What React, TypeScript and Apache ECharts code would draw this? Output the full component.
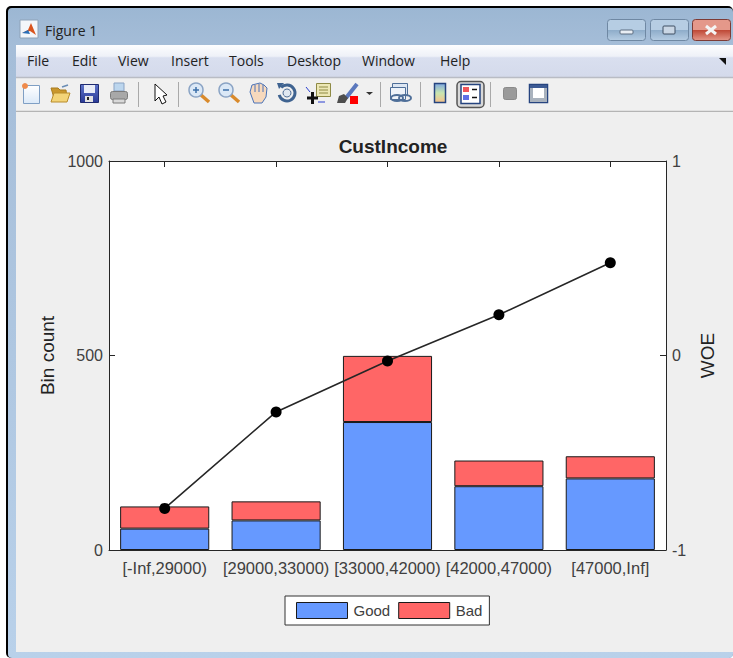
import React, { useEffect, useRef } from "react";
import * as echarts from "echarts";

const categories = ["[-Inf,29000)", "[29000,33000)", "[33000,42000)", "[42000,47000)", "[47000,Inf]"];
const goodCounts = [55, 76, 329, 164, 184];
const badCounts = [57, 49, 170, 66, 57];
const woeValues = [-0.786, -0.29, -0.028, 0.209, 0.477];
const menuItems: [string, number][] = [["File", 27], ["Edit", 72], ["View", 118], ["Insert", 171], ["Tools", 229], ["Desktop", 287], ["Window", 362], ["Help", 440]];
const separators = [138, 178, 380, 420, 490];

const FONT = "Liberation Sans, Arial, sans-serif";
const UI = "Open Sans, Noto Sans, sans-serif";
const TXT = "#404040";
const vg = (stops: [number, string][]) =>
  new echarts.graphic.LinearGradient(0, 0, 0, 1, stops.map(([offset, color]) => ({ offset, color })));
const rect = (x: number, y: number, w: number, h: number, fill: any, stroke?: string, r = 0, lineWidth = 1) => ({
  type: "rect", silent: true, shape: { x, y, width: w, height: h, r }, style: { fill, stroke, lineWidth },
});
const poly = (pts: number[][], fill: string, stroke?: string) => ({
  type: "polygon", silent: true, shape: { points: pts }, style: { fill, stroke, lineWidth: 1 },
});
const seg = (x1: number, y1: number, x2: number, y2: number, stroke: string, lineWidth = 1) => ({
  type: "line", silent: true, shape: { x1, y1, x2, y2 }, style: { stroke, lineWidth },
});
const circ = (cx: number, cy: number, r: number, fill: string, stroke?: string, lineWidth = 1) => ({
  type: "circle", silent: true, shape: { cx, cy, r }, style: { fill, stroke, lineWidth },
});
const label = (text: string, x: number, y: number) => ({
  type: "text", silent: true, x, y,
  style: { text, fill: "#222222", font: `14px ${UI}`, verticalAlign: "middle" },
});

function windowButton(x: number, w: number, top: string, bottom: string, border: string) {
  return rect(x + 0.5, 19.5, w, 21, vg([[0, top], [0.48, top], [0.52, bottom], [1, top]]), border, 3);
}

function chrome() {
  const zoomIcon = (cx: number, plus: boolean) => [
    seg(cx + 5, 95, cx + 13, 102, "#d98a2b", 3.5),
    circ(cx, 90, 7, "#dbe8f6", "#8aa3c4", 1.5),
    seg(cx - 3, 90, cx + 3, 90, "#3b6fa8", 1.5),
    ...(plus ? [seg(cx, 87, cx, 93, "#3b6fa8", 1.5)] : []),
  ];
  const els: any[] = [
    rect(6, 6, 727, 652, "#000000", undefined, 5),
    rect(8, 8, 725, 650, vg([[0, "#9cb7d3"], [0.06, "#a5bdd8"], [1, "#b9d1ea"]]), undefined, 4),
    rect(16, 45, 717, 32, vg([[0, "#fdfdfe"], [0.35, "#eef1f8"], [0.4, "#d9dfef"], [1, "#d4daeb"]])),
    rect(16, 77, 717, 575, "#f0f0f0"),
    seg(16, 77.5, 733, 77.5, "#b9bcc4", 1.5),
    seg(16, 111.5, 733, 111.5, "#b4b4b4", 1.5),
    rect(16, 112, 717, 540, "#efefef"),
    // title bar
    rect(20, 20, 18, 18, "#f4f6fa", "#8ea2b8"),
    poly([[22, 33], [28, 30], [31, 23], [36, 35], [30, 31]], "#d9541e"),
    poly([[22, 33], [28, 30], [30, 34]], "#2a6fb8"),
    { ...label("Figure 1", 45, 30.5) },
    windowButton(607, 38, "#b6cde3", "#8fadca", "#6f88a3"),
    rect(620, 30, 13, 4, "#e9eef4", "#5d6d80", 1),
    windowButton(650, 38, "#b6cde3", "#8fadca", "#6f88a3"),
    rect(663, 26, 12, 8, "#c9d6e4", "#3f4f62", 1),
    windowButton(692, 38, "#e4988a", "#bf4a38", "#7d3b35"),
    seg(706, 26, 716, 34, "#f4f4f4", 3),
    seg(716, 26, 706, 34, "#f4f4f4", 3),
    ...menuItems.map(([t, x]) => label(t, x, 60.5)),
    poly([[719, 58], [726, 58], [726, 65]], "#111111"),
    // toolbar separators
    ...separators.map((x) => seg(x + 0.5, 82, x + 0.5, 107, "#a9a9a9")),
    // new file
    rect(23.5, 85.5, 16, 18, vg([[0, "#ffffff"], [1, "#dbe9f8"]]), "#7f9fc4"),
    circ(25, 86, 3, "#ef8a4a"),
    // open folder
    poly([[54, 98], [51, 88], [58, 88], [60, 90], [66, 90], [67, 98]], "#c9972d", "#a97d20"),
    poly([[51, 102], [54, 93], [70, 93], [67, 102]], "#f3d478", "#b88c2c"),
    seg(62, 87, 68, 85, "#6b8db5", 1.5),
    // save
    rect(80.5, 84.5, 18, 18, vg([[0, "#5d73c9"], [1, "#2a3a96"]]), "#1f2b70"),
    rect(84, 85, 11, 8, "#e8ecf7"),
    rect(85, 96, 8, 6, "#e3e3e3"),
    rect(87, 97, 2, 3, "#222222"),
    // print
    rect(114, 83, 10, 8, "#bcd6ee", "#8aa3c4"),
    rect(110.5, 91.5, 17, 8, "#a8a8a8", "#7b7b7b", 2),
    rect(113, 99, 12, 4, "#d9d9d9", "#7b7b7b"),
    // arrow
    poly([[155, 84], [155, 101], [159, 97], [162, 104], [166, 102], [163, 96], [167, 95]], "#ffffff", "#111111"),
    ...zoomIcon(196, true),
    ...zoomIcon(226, false),
    // hand
    poly([[250, 92], [252, 85], [256, 84], [260, 83], [264, 85], [267, 88], [266, 97], [262, 103], [254, 103]], "#f7d9bd", "#4a73b8"),
    seg(255, 85, 255, 92, "#4a73b8"), seg(259, 84, 259, 92, "#4a73b8"), seg(263, 85, 263, 92, "#4a73b8"),
    // rotate
    { type: "arc", silent: true, shape: { cx: 287, cy: 93, r: 8, startAngle: -2.4, endAngle: 2.9 }, style: { fill: "none", stroke: "#3f6390", lineWidth: 3 } },
    circ(287, 93, 4, "#dfe7f0", "#4d6c94"),
    poly([[277, 83], [284, 83], [279, 89]], "#3f6390"),
    // data cursor
    rect(316.5, 83.5, 14, 13, "#ece7b5", "#8e8a45"),
    seg(319, 87, 328, 87, "#8e8a45"), seg(319, 90, 328, 90, "#8e8a45"), seg(319, 93, 328, 93, "#8e8a45"),
    seg(307, 98, 318, 98, "#111111", 3), seg(312.5, 92, 312.5, 104, "#111111", 3),
    seg(306, 87, 310, 92, "#2a3fd0"), seg(318, 102, 325, 102, "#2a3fd0"),
    // brush
    seg(346, 98, 357, 84, "#5b78bd", 4),
    poly([[337, 103], [339, 96], [344, 94], [348, 98], [345, 103]], "#4e4e4e"),
    rect(350, 96, 8, 8, "#ff0000"),
    poly([[366, 92], [373, 92], [369.5, 95]], "#333333"),
    // link
    rect(392.5, 83.5, 15, 12, "#dce6f2", "#4f6f99"),
    rect(390.5, 87.5, 15, 12, "#eef3f9", "#4f6f99"),
    { type: "ellipse", silent: true, shape: { cx: 397, cy: 98, rx: 6, ry: 3 }, style: { fill: "none", stroke: "#4f6f99", lineWidth: 2 } },
    { type: "ellipse", silent: true, shape: { cx: 405, cy: 98, rx: 6, ry: 3 }, style: { fill: "none", stroke: "#4f6f99", lineWidth: 2 } },
    // colorbar
    rect(434.5, 83.5, 11, 19, vg([[0, "#7fa8e0"], [0.5, "#c8e6b0"], [1, "#f6c08a"]]), "#26447f", 0, 1.5),
    // legend toggle
    rect(457, 81.5, 27, 26, "#d9d9d9", "#555555", 4, 1.5),
    rect(461, 84.5, 19, 19, "#ffffff", "#26447f", 0, 1.5),
    rect(463, 87, 6, 5, "#f0555a"), rect(463, 95, 6, 5, "#5f6fe6"),
    seg(472, 89.5, 477, 89.5, "#111111", 1.5), seg(472, 97.5, 477, 97.5, "#111111", 1.5),
    // plot-tools icons
    rect(503.5, 87.5, 13, 12, "#9a9a9a", "#8a8a8a", 2),
    rect(529.5, 84.5, 18, 18, "#ffffff", "#26447f", 0, 1.5),
    rect(530, 85, 17, 3, "#3c5a94"), rect(530, 98, 17, 4, "#a9b2bd"),
    rect(530, 88, 3, 10, "#a9b2bd"), rect(544, 88, 3, 10, "#a9b2bd"),
  ];
  return els.map((e) => ({ ...e, z: -1 }));
}

export default function App() {
  const ref = useRef<HTMLDivElement>(null);
  useEffect(() => {
    const chart = echarts.init(ref.current!, undefined, { renderer: "svg" });
    const axisLine = { show: true, onZero: false, lineStyle: { color: "#262626", width: 1 } };
    const axisTick = { show: true, inside: true, length: 6, lineStyle: { color: "#262626", width: 1 } };
    const edge = { borderColor: "#1a1a1a", borderWidth: 1 };
    chart.setOption({
      animation: false,
      backgroundColor: "#ffffff",
      graphic: { elements: chrome() },
      title: {
        text: "CustIncome", left: 388, top: 132, textAlign: "center",
        textStyle: { fontFamily: FONT, fontSize: 19, fontWeight: "bold", color: "#222222" },
      },
      legend: {
        data: ["Good", "Bad"], left: 285, top: 596, orient: "horizontal",
        itemWidth: 51, itemHeight: 16, itemGap: 8,
        padding: [6, 7, 6, 11], borderWidth: 1, borderColor: "#333333", backgroundColor: "#ffffff",
        selectedMode: false, icon: "rect",
        itemStyle: { borderWidth: 1, borderColor: "#1a1a1a" },
        textStyle: { fontFamily: FONT, fontSize: 15, color: TXT, padding: [1, 0, 0, 1] },
      },
      grid: { left: 109, top: 161, width: 557, height: 389, show: true, backgroundColor: "#ffffff", borderWidth: 0 },
      xAxis: [
        {
          type: "category", data: categories, position: "bottom", axisLine, axisTick: { ...axisTick, alignWithLabel: true },
          axisLabel: { interval: 0, margin: 9, fontFamily: FONT, fontSize: 16.5, color: TXT, hideOverlap: false },
        },
        {
          type: "category", data: categories, position: "top", axisLine, axisTick: { ...axisTick, alignWithLabel: true },
          axisLabel: { show: false },
        },
      ],
      yAxis: [
        {
          type: "value", min: 0, max: 1000, interval: 500, position: "left", axisLine, axisTick, splitLine: { show: false },
          axisLabel: { margin: 6, fontFamily: FONT, fontSize: 16, color: TXT, padding: [3, 0, 0, 0], formatter: (v: number) => String(v) },
          name: "Bin count", nameLocation: "middle", nameGap: 48, nameRotate: 90,
          nameTextStyle: { fontFamily: FONT, fontSize: 19, color: "#222222" },
        },
        {
          type: "value", min: -1, max: 1, interval: 1, position: "right", axisLine, axisTick, splitLine: { show: false },
          axisLabel: { margin: 6, fontFamily: FONT, fontSize: 16, color: TXT, padding: [3, 0, 0, 0] },
          name: "WOE", nameLocation: "middle", nameGap: 32, nameRotate: 90,
          nameTextStyle: { fontFamily: FONT, fontSize: 19, color: "#222222" },
        },
      ],
      series: [
        { name: "Good", type: "bar", stack: "bin", data: goodCounts, barWidth: "80%", itemStyle: { ...edge, color: "#6699ff" } },
        { name: "Bad", type: "bar", stack: "bin", data: badCounts, barWidth: "80%", itemStyle: { ...edge, color: "#ff6666" } },
        {
          name: "WOE", type: "line", yAxisIndex: 1, data: woeValues, symbol: "circle", symbolSize: 11, z: 5,
          lineStyle: { color: "#262626", width: 1.6 }, itemStyle: { color: "#000000" },
        },
      ],
    });
    return () => chart.dispose();
  }, []);
  return <div ref={ref} style={{ position: "absolute", left: 0, top: 0, width: 733, height: 658 }} />;
}
